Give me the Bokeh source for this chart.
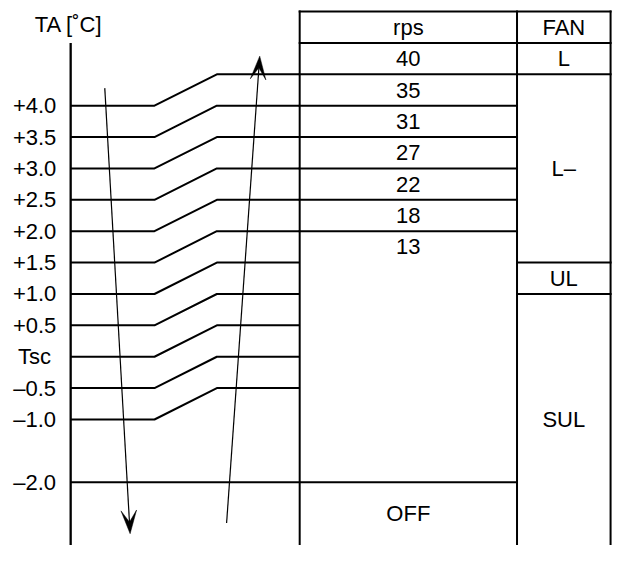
from bokeh.plotting import figure
from bokeh.models import Range1d
from bokeh.embed import file_html
from bokeh.resources import INLINE
from bokeh.core.properties import value
import math

# ---- data ----
levels = [4.0, 3.5, 3.0, 2.5, 2.0, 1.5, 1.0, 0.5, 0.0, -0.5, -1.0]
level_labels = ["+4.0", "+3.5", "+3.0", "+2.5", "+2.0", "+1.5", "+1.0", "+0.5", "Tsc", "\u20130.5", "\u20131.0"]
off_level = -2.0
off_label = "\u20132.0"
step = 0.5
rps_values = ["40", "35", "31", "27", "22", "18", "13"]
rps_rows_top = [5.0, 4.5, 4.0, 3.5, 3.0, 2.5, 2.0]
fan_labels = ["FAN", "L", "L\u2013", "UL", "SUL"]
fan_bounds = [5.5, 5.0, 4.5, 1.5, 1.0, -3.0]
header_top = 5.5
header_bottom = 5.0
bottom = -3.0
title_level = 5.29
# arrows (x in layout units, y in temperature units)
down_arrow = dict(x0=107, y0=4.28, x1=133, y1=-2.82)
up_arrow = dict(x0=232, y0=-2.65, x1=266, y1=4.79)

# ---- layout (x positions, in reference pixels) ----
X_LABEL = 35
X_TITLE = 70
X_AXIS = 72
X_STEP0 = 158
X_STEP1 = 222
X_TAB = 307
X_FAN = 530
X_RIGHT = 626
PX_PER_UNIT = 64.6
Y0_PX = 366.7
REF_W, REF_H = 629, 561

W, H = 613, 545
p = figure(width=W, height=H, output_backend="svg", toolbar_location=None,
           x_range=Range1d(0, REF_W),
           y_range=Range1d((Y0_PX - REF_H) / PX_PER_UNIT, Y0_PX / PX_PER_UNIT),
           min_border=0)
p.axis.visible = False
p.grid.visible = False
p.outline_line_color = None
p.background_fill_color = "white"
p.border_fill_color = "white"

LW = 2
FONT = value("Liberation Sans")
FS = "22px"

# staircase lines
xs, ys = [], []
for t in levels:
    xs.append([X_AXIS, X_STEP0, X_STEP1, X_TAB])
    ys.append([t, t, t + step, t + step])
p.multi_line(xs, ys, line_color="black", line_width=LW)

# off line
p.segment([X_AXIS], [off_level], [X_FAN], [off_level], line_color="black", line_width=LW)

# table horizontal lines
sx0, sy0, sx1, sy1 = [], [], [], []
for t in [header_top, header_bottom]:
    sx0.append(X_TAB); sx1.append(X_RIGHT); sy0.append(t); sy1.append(t)
for t in rps_rows_top[1:]:
    sx0.append(X_TAB); sx1.append(X_FAN); sy0.append(t); sy1.append(t)
for t in fan_bounds[2:-1]:
    sx0.append(X_FAN); sx1.append(X_RIGHT); sy0.append(t); sy1.append(t)
# vertical lines
for x in [X_TAB, X_FAN, X_RIGHT]:
    sx0.append(x); sx1.append(x); sy0.append(header_top); sy1.append(bottom)
p.segment(sx0, sy0, sx1, sy1, line_color="black", line_width=LW, line_cap="square")
# axis
p.segment([X_AXIS], [header_bottom], [X_AXIS], [bottom], line_color="black", line_width=2.3)

# labels
p.text([X_LABEL] * len(levels), levels, text=level_labels, text_align="center",
       text_baseline="middle", text_font=FONT, text_font_size=FS, text_color="black")
p.text([X_LABEL], [off_level], text=[off_label], text_align="center",
       text_baseline="middle", text_font=FONT, text_font_size=FS, text_color="black")
p.text([X_TITLE], [title_level], text=["TA [\u02daC]"], text_align="center",
       text_baseline="middle", text_font=FONT, text_font_size=FS, text_color="black")

# rps texts
rx = (X_TAB + X_FAN) / 2
ry = [t - step / 2 for t in rps_rows_top]
p.text([rx] * (len(rps_values) + 1), [header_top - step / 2] + ry, text=["rps"] + rps_values,
       text_align="center", text_baseline="middle", text_font=FONT, text_font_size=FS,
       text_color="black")
p.text([rx], [(off_level + bottom) / 2], text=["OFF"], text_align="center",
       text_baseline="middle", text_font=FONT, text_font_size=FS, text_color="black")

# fan texts
fx = (X_FAN + X_RIGHT) / 2
fy = [(fan_bounds[i] + fan_bounds[i + 1]) / 2 for i in range(len(fan_labels))]
p.text([fx] * len(fan_labels), fy, text=fan_labels, text_align="center",
       text_baseline="middle", text_font=FONT, text_font_size=FS, text_color="black")

# arrows
def arrow(a, head_len=24, half_w=8, notch=12):
    x0, y0 = a["x0"], -a["y0"] * PX_PER_UNIT
    x1, y1 = a["x1"], -a["y1"] * PX_PER_UNIT
    dx, dy = x1 - x0, y1 - y0
    L = math.hypot(dx, dy)
    ux, uy = dx / L, dy / L
    nx, ny = -uy, ux
    bx, by = x1 - ux * head_len, y1 - uy * head_len
    mx, my = x1 - ux * (head_len - notch), y1 - uy * (head_len - notch)
    px = [x1, bx + nx * half_w, mx, bx - nx * half_w]
    py = [-v / PX_PER_UNIT for v in [y1, by + ny * half_w, my, by - ny * half_w]]
    p.segment([a["x0"]], [a["y0"]], [mx], [-my / PX_PER_UNIT], line_color="black", line_width=1.2)
    p.patch(px, py, fill_color="black", line_color="black", line_width=0.5)

arrow(down_arrow)
arrow(up_arrow)

open("out.html", "w").write(file_html(p, INLINE))
